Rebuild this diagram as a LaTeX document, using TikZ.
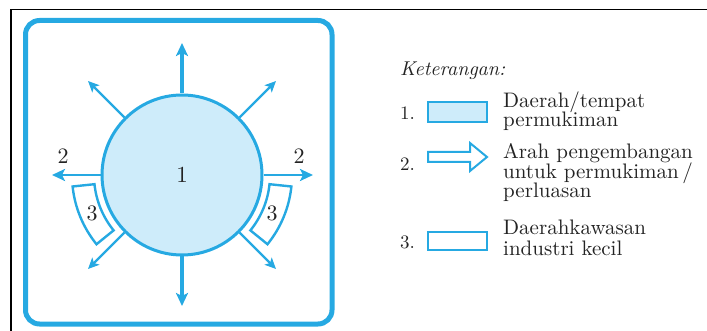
\documentclass[tikz,border=0pt]{standalone}
\usepackage{fontspec}
\setmainfont{lmroman10-regular.otf}[ItalicFont=lmroman10-italic.otf,BoldFont=lmroman10-bold.otf]
\usetikzlibrary{arrows.meta,calc}
\definecolor{cblue}{RGB}{38,169,226}
\definecolor{cfill}{RGB}{206,236,250}
\definecolor{ctext}{RGB}{35,35,35}
\begin{document}
\begin{tikzpicture}[x=1pt,y=-1pt,
  spoke/.style={cblue, line width=#1, -{Stealth[length=13pt,width=12pt,inset=3pt]}},
  dspoke/.style={cblue, line width=2.2pt, -{Stealth[length=11pt,width=10pt,inset=2.5pt]}},
  sector/.style={draw=cblue, line width=2.4pt, fill=white, line join=miter},
  lbl/.style={text=ctext, inner sep=0pt, font=\fontsize{22}{22}\selectfont},
  legtxt/.style={text=ctext, inner sep=0pt, anchor=base west, font=\fontsize{21}{19}\selectfont},
  legnum/.style={text=ctext, inner sep=0pt, anchor=base west, font=\fontsize{19}{19}\selectfont},
  legbox/.style={draw=cblue, line width=2.6pt, minimum width=59pt, minimum height=20pt, inner sep=0pt}]
\useasboundingbox (0,0) rectangle (707,331);
% outer frame lines
\draw[black, line width=1.5pt] (707,9.5) -- (11,9.5) -- (11,331);
% blue rounded frame
\draw[cblue, line width=5pt, rounded corners=14pt] (25.5,20.5) rectangle (332,324);
% central circle
\node[circle, draw=cblue, fill=cfill, line width=3pt, minimum size=160pt, inner sep=0pt,
      text=ctext, font=\fontsize{23}{23}\selectfont] (c) at (182,175) {1};
% arrow end points
\coordinate (tN) at (182,43);
\coordinate (tS) at (182,306);
\coordinate (tW) at (52,175);
\coordinate (tE) at (313,175);
\coordinate (tNW) at (88,81);
\coordinate (tNE) at (276,81);
\coordinate (tSW) at (88,269);
\coordinate (tSE) at (276,269);
\draw[spoke=3.4pt] (c.north) -- (tN);
\draw[spoke=3.4pt] (c.south) -- (tS);
\draw[spoke=2.8pt] (c.west) -- (tW);
\draw[spoke=2.8pt] (c.east) -- (tE);
\draw[dspoke] (c.135) -- (tNW);
\draw[dspoke] (c.45) -- (tNE);
\draw[dspoke] (c.225) -- (tSW);
\draw[dspoke] (c.-45) -- (tSE);
% industrial sectors
\draw[sector] ($(c.center)+(6:88)$) arc[start angle=6, end angle=39, radius=88]
  -- ($(c.center)+(39:110)$) arc[start angle=39, end angle=6, radius=110] -- cycle;
\draw[sector] ($(c.center)+(174:88)$) arc[start angle=174, end angle=141, radius=88]
  -- ($(c.center)+(141:110)$) arc[start angle=141, end angle=174, radius=110] -- cycle;
\node[lbl] (s3r) at (272,213) {3};
\node[lbl] (s3l) at (92,213) {3};
\node[lbl] (a2l) at (63,156) {2};
\node[lbl] (a2r) at (299,156) {2};
% legend
\node[legtxt, font=\fontsize{20}{19}\selectfont\itshape] (ket) at (400,76) {Keterangan:};
\node[legnum] (n1) at (400,120) {1.};
\node[legbox, fill=cfill] (b1) at (457.5,112) {};
\node[legtxt] (l1a) at (503,107.5) {Daerah/tempat};
\node[legtxt] (l1b) at (503,127) {permukiman};
\node[legnum] (n2) at (400,171) {2.};
\draw[cblue, line width=2pt, fill=white, line join=miter]
  (428,152) -- (470,152) -- (470,143) -- (487,157) -- (470,171) -- (470,162) -- (428,162) -- cycle;
\node[legtxt] (l2a) at (503,159) {Arah pengembangan};
\node[legtxt] (l2b) at (503,178.5) {untuk permukiman\,/};
\node[legtxt] (l2c) at (503,198) {perluasan};
\node[legnum] (n3) at (400,248) {3.};
\node[legbox, minimum height=18pt, fill=white] (b3) at (457.5,241) {};
\node[legtxt] (l3a) at (503,235) {Daerahkawasan};
\node[legtxt] (l3b) at (503,256) {industri kecil};
\end{tikzpicture}
\end{document}
